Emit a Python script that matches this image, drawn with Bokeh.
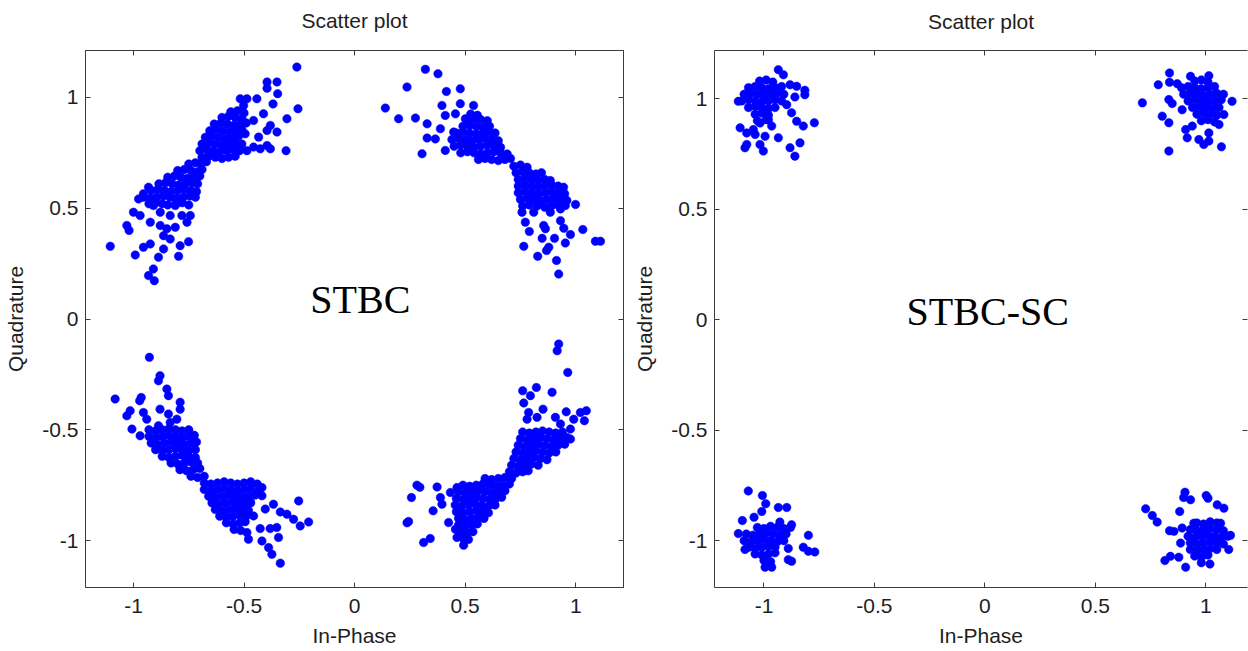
from bokeh.plotting import figure
from bokeh.layouts import row
from bokeh.models import LinearAxis, FixedTicker, Label, ColumnDataSource
from bokeh.embed import file_html
from bokeh.resources import INLINE

# ---------------- data ----------------
tick_values = [-1, -0.5, 0, 0.5, 1]
tick_labels = ["-1", "-0.5", "0", "0.5", "1"]

titles = ["Scatter plot", "Scatter plot"]
x_label = "In-Phase"
y_label = "Quadrature"
annotations = ["STBC", "STBC-SC"]

# STBC constellation (left panel), (In-Phase, Quadrature) pairs per quadrant
stbc_q2 = [
    (-0.261, 1.137), (-0.256, 0.949), (-0.306, 0.904), (-0.310, 0.760), (-0.396, 1.070), (-0.351, 1.070),
    (-0.396, 1.042), (-0.348, 1.017), (-0.369, 0.971), (-0.412, 0.926), (-0.442, 0.994), (-0.487, 0.994),
    (-0.457, 0.896), (-0.396, 0.851), (-0.351, 0.844), (-0.381, 0.874), (-0.434, 0.821), (-0.396, 0.783),
    (-0.381, 0.768), (-0.427, 0.768), (-0.457, 0.776), (-0.487, 0.760), (-0.517, 0.783), (-0.495, 0.836),
    (-0.517, 0.994), (-0.502, 0.964),
    (-1.105, 0.328), (-1.030, 0.422), (-1.020, 0.400), (-1.000, 0.482), (-0.970, 0.467), (-0.992, 0.289),
    (-0.955, 0.324), (-0.924, 0.339), (-0.932, 0.196), (-0.906, 0.173), (-0.910, 0.226), (-0.887, 0.279),
    (-0.864, 0.316), (-0.879, 0.422), (-0.864, 0.376), (-0.834, 0.361), (-0.849, 0.407), (-0.811, 0.414),
    (-0.796, 0.283), (-0.789, 0.331), (-0.751, 0.349), (-0.758, 0.437), (-0.743, 0.467), (-0.781, 0.467),
    (-0.924, 0.437), (-0.977, 0.542), (-0.955, 0.565), (-0.932, 0.595), (-0.910, 0.512), (-0.879, 0.482),
    (-0.834, 0.467), (-0.811, 0.512),
    (-0.93, 0.52), (-0.90, 0.525), (-0.87, 0.52), (-0.845, 0.515), (-0.81, 0.52), (-0.78, 0.525), (-0.75, 0.515),
    (-0.955, 0.55), (-0.925, 0.545), (-0.895, 0.55), (-0.865, 0.555), (-0.835, 0.55), (-0.805, 0.545),
    (-0.775, 0.55), (-0.745, 0.555), (-0.72, 0.55),
    (-0.92, 0.58), (-0.89, 0.585), (-0.86, 0.58), (-0.83, 0.575), (-0.80, 0.58), (-0.77, 0.585), (-0.74, 0.58),
    (-0.715, 0.575),
    (-0.885, 0.61), (-0.855, 0.615), (-0.825, 0.61), (-0.795, 0.605), (-0.765, 0.61), (-0.735, 0.615), (-0.71, 0.61),
    (-0.845, 0.64), (-0.815, 0.645), (-0.785, 0.64), (-0.755, 0.635), (-0.725, 0.64), (-0.70, 0.645),
    (-0.80, 0.67), (-0.77, 0.675), (-0.74, 0.67), (-0.71, 0.665), (-0.69, 0.675),
    (-0.75, 0.70), (-0.72, 0.705), (-0.695, 0.70), (-0.67, 0.71),
    (-0.69, 0.73), (-0.66, 0.735), (-0.63, 0.73), (-0.60, 0.725), (-0.57, 0.73), (-0.54, 0.735),
    (-0.70, 0.76), (-0.67, 0.765), (-0.64, 0.76), (-0.61, 0.755), (-0.58, 0.76), (-0.55, 0.765), (-0.52, 0.76),
    (-0.69, 0.79), (-0.66, 0.795), (-0.63, 0.79), (-0.60, 0.785), (-0.57, 0.79), (-0.54, 0.795), (-0.51, 0.79),
    (-0.675, 0.82), (-0.645, 0.825), (-0.615, 0.82), (-0.585, 0.815), (-0.555, 0.82), (-0.525, 0.825),
    (-0.655, 0.85), (-0.625, 0.855), (-0.595, 0.85), (-0.565, 0.845), (-0.535, 0.85), (-0.51, 0.855),
    (-0.635, 0.88), (-0.605, 0.885), (-0.575, 0.88), (-0.545, 0.875), (-0.515, 0.88), (-0.49, 0.885),
    (-0.60, 0.91), (-0.57, 0.915), (-0.54, 0.91), (-0.51, 0.905),
    (-0.56, 0.935), (-0.53, 0.94), (-0.50, 0.93),
]

stbc_q1 = [
    (0.320, 1.127), (0.237, 1.047), (0.377, 1.107), (0.415, 1.027), (0.478, 1.039), (0.139, 0.952),
    (0.199, 0.904), (0.275, 0.907), (0.328, 0.881), (0.305, 0.746), (0.328, 0.817), (0.365, 0.813),
    (0.410, 0.761), (0.395, 0.964), (0.410, 0.919), (0.388, 0.859), (0.456, 0.926), (0.478, 0.972),
    (0.538, 0.964), (0.501, 0.904), (0.448, 0.844),
    (0.999, 0.517), (1.032, 0.404), (1.089, 0.351), (1.112, 0.351), (0.976, 0.381), (0.953, 0.343),
    (0.946, 0.410), (0.931, 0.444), (0.923, 0.203), (0.913, 0.264), (0.904, 0.364), (0.878, 0.324),
    (0.868, 0.309), (0.828, 0.283), (0.848, 0.364), (0.863, 0.407), (0.855, 0.422), (0.765, 0.328),
    (0.790, 0.395), (0.772, 0.437), (0.757, 0.482), (0.810, 0.482), (0.885, 0.482), (0.931, 0.497),
    (0.953, 0.512),
    (0.56, 0.72), (0.59, 0.725), (0.62, 0.72), (0.65, 0.715), (0.68, 0.72), (0.705, 0.725),
    (0.48, 0.75), (0.51, 0.755), (0.54, 0.75), (0.57, 0.745), (0.60, 0.75), (0.63, 0.755), (0.66, 0.75), (0.69, 0.745),
    (0.45, 0.78), (0.48, 0.785), (0.51, 0.78), (0.54, 0.775), (0.57, 0.78), (0.60, 0.785), (0.63, 0.78), (0.66, 0.775),
    (0.44, 0.81), (0.47, 0.815), (0.50, 0.81), (0.53, 0.805), (0.56, 0.81), (0.59, 0.815), (0.62, 0.81), (0.65, 0.805),
    (0.46, 0.84), (0.49, 0.845), (0.52, 0.84), (0.55, 0.835), (0.58, 0.84), (0.61, 0.845), (0.635, 0.84),
    (0.49, 0.87), (0.52, 0.875), (0.55, 0.87), (0.58, 0.865), (0.61, 0.87),
    (0.51, 0.90), (0.54, 0.905), (0.57, 0.90), (0.60, 0.895),
    (0.525, 0.925), (0.555, 0.92),
    (0.72, 0.69), (0.75, 0.695), (0.78, 0.685),
    (0.73, 0.66), (0.76, 0.665), (0.79, 0.66), (0.82, 0.655), (0.845, 0.66),
    (0.74, 0.63), (0.77, 0.635), (0.80, 0.63), (0.83, 0.625), (0.86, 0.63), (0.885, 0.625),
    (0.74, 0.60), (0.77, 0.605), (0.80, 0.60), (0.83, 0.595), (0.86, 0.60), (0.89, 0.605), (0.92, 0.60), (0.945, 0.595),
    (0.74, 0.57), (0.77, 0.575), (0.80, 0.57), (0.83, 0.565), (0.86, 0.57), (0.89, 0.575), (0.92, 0.57), (0.95, 0.565),
    (0.75, 0.54), (0.78, 0.545), (0.81, 0.54), (0.84, 0.535), (0.87, 0.54), (0.90, 0.545), (0.93, 0.54), (0.96, 0.535),
    (0.76, 0.51), (0.79, 0.515), (0.825, 0.51), (0.86, 0.505), (0.89, 0.51), (0.92, 0.515),
]

stbc_q3 = [
    (-0.928, -0.173), (-0.880, -0.256), (-0.887, -0.279), (-0.849, -0.316), (-0.842, -0.346), (-1.083, -0.361),
    (-0.965, -0.354), (-0.972, -0.369), (-0.789, -0.376), (-0.789, -0.407), (-0.880, -0.407), (-0.842, -0.429),
    (-1.015, -0.414), (-1.030, -0.437), (-0.804, -0.452), (-0.955, -0.422), (-0.940, -0.452), (-1.007, -0.497),
    (-0.970, -0.527), (-0.887, -0.482), (-0.834, -0.467),
    (-0.253, -0.821), (-0.208, -0.916), (-0.246, -0.934), (-0.276, -0.904), (-0.306, -0.881), (-0.336, -0.871),
    (-0.367, -0.836), (-0.419, -0.761), (-0.419, -0.798), (-0.404, -0.858), (-0.427, -0.946), (-0.382, -0.946),
    (-0.352, -0.941), (-0.344, -0.986), (-0.419, -1.002), (-0.389, -1.032), (-0.374, -1.062), (-0.336, -1.102),
    (-0.480, -0.994), (-0.487, -0.964), (-0.457, -0.889), (-0.472, -0.828),
    (-0.93, -0.50), (-0.90, -0.505), (-0.87, -0.50), (-0.84, -0.495), (-0.81, -0.50), (-0.78, -0.505), (-0.75, -0.50),
    (-0.93, -0.53), (-0.90, -0.535), (-0.87, -0.53), (-0.84, -0.525), (-0.81, -0.53), (-0.78, -0.535), (-0.75, -0.53),
    (-0.725, -0.525),
    (-0.92, -0.56), (-0.89, -0.565), (-0.86, -0.56), (-0.83, -0.555), (-0.80, -0.56), (-0.77, -0.565), (-0.74, -0.56),
    (-0.715, -0.555),
    (-0.90, -0.59), (-0.87, -0.595), (-0.84, -0.59), (-0.81, -0.585), (-0.78, -0.59), (-0.75, -0.595), (-0.72, -0.59),
    (-0.87, -0.62), (-0.84, -0.625), (-0.81, -0.62), (-0.78, -0.615), (-0.75, -0.62), (-0.72, -0.625),
    (-0.83, -0.65), (-0.80, -0.655), (-0.77, -0.65), (-0.74, -0.645), (-0.71, -0.65),
    (-0.79, -0.68), (-0.76, -0.685), (-0.73, -0.68), (-0.70, -0.675),
    (-0.74, -0.71), (-0.71, -0.715), (-0.68, -0.71),
    (-0.68, -0.74), (-0.65, -0.745), (-0.62, -0.74), (-0.59, -0.735), (-0.56, -0.74), (-0.53, -0.745), (-0.50, -0.74),
    (-0.47, -0.735), (-0.44, -0.745),
    (-0.68, -0.77), (-0.65, -0.775), (-0.62, -0.77), (-0.59, -0.765), (-0.56, -0.77), (-0.53, -0.775), (-0.50, -0.77),
    (-0.47, -0.765), (-0.435, -0.775),
    (-0.66, -0.80), (-0.63, -0.805), (-0.60, -0.80), (-0.57, -0.795), (-0.54, -0.80), (-0.51, -0.805), (-0.48, -0.80),
    (-0.45, -0.795),
    (-0.645, -0.83), (-0.615, -0.835), (-0.585, -0.83), (-0.555, -0.825), (-0.525, -0.83), (-0.495, -0.835), (-0.47, -0.83),
    (-0.63, -0.86), (-0.60, -0.865), (-0.57, -0.86), (-0.54, -0.855), (-0.51, -0.86), (-0.48, -0.865),
    (-0.61, -0.89), (-0.58, -0.895), (-0.55, -0.89), (-0.52, -0.885), (-0.49, -0.89),
    (-0.58, -0.92), (-0.55, -0.925), (-0.52, -0.92), (-0.495, -0.915),
    (-0.545, -0.95), (-0.515, -0.955),
]

stbc_q4 = [
    (0.923, -0.113), (0.916, -0.143), (0.964, -0.241), (0.760, -0.324), (0.822, -0.309), (0.795, -0.346),
    (0.893, -0.331), (0.765, -0.379), (0.852, -0.407), (0.957, -0.419), (1.048, -0.414), (1.021, -0.422),
    (1.039, -0.459), (0.787, -0.422), (0.780, -0.452), (0.825, -0.444), (0.908, -0.444), (0.931, -0.474),
    (0.991, -0.452), (0.976, -0.497), (0.976, -0.542),
    (0.282, -0.750), (0.295, -0.760), (0.257, -0.806), (0.373, -0.758), (0.388, -0.806), (0.395, -0.836),
    (0.355, -0.866), (0.244, -0.914), (0.237, -0.920), (0.312, -1.009), (0.342, -0.991), (0.433, -0.783),
    (0.463, -0.761), (0.470, -0.851), (0.425, -0.919), (0.456, -0.949), (0.463, -0.986), (0.493, -1.021),
    (0.76, -0.51), (0.79, -0.515), (0.82, -0.51), (0.85, -0.505), (0.88, -0.51), (0.91, -0.515), (0.94, -0.51),
    (0.75, -0.54), (0.78, -0.545), (0.81, -0.54), (0.84, -0.535), (0.87, -0.54), (0.90, -0.545), (0.93, -0.54), (0.96, -0.535),
    (0.74, -0.57), (0.77, -0.575), (0.80, -0.57), (0.83, -0.565), (0.86, -0.57), (0.89, -0.575), (0.92, -0.57), (0.95, -0.565),
    (0.73, -0.60), (0.76, -0.605), (0.79, -0.60), (0.82, -0.595), (0.85, -0.60), (0.88, -0.605), (0.91, -0.60),
    (0.72, -0.63), (0.75, -0.635), (0.78, -0.63), (0.81, -0.625), (0.84, -0.63), (0.87, -0.635),
    (0.71, -0.66), (0.74, -0.665), (0.77, -0.66), (0.80, -0.655), (0.83, -0.66),
    (0.70, -0.69), (0.73, -0.695), (0.76, -0.69), (0.785, -0.685),
    (0.59, -0.72), (0.62, -0.725), (0.65, -0.72), (0.68, -0.715), (0.71, -0.72),
    (0.49, -0.75), (0.52, -0.755), (0.55, -0.75), (0.58, -0.745), (0.61, -0.75), (0.64, -0.755), (0.67, -0.75), (0.70, -0.745),
    (0.47, -0.78), (0.50, -0.785), (0.53, -0.78), (0.56, -0.775), (0.59, -0.78), (0.62, -0.785), (0.65, -0.78), (0.68, -0.775),
    (0.46, -0.81), (0.49, -0.815), (0.52, -0.81), (0.55, -0.805), (0.58, -0.81), (0.61, -0.815), (0.64, -0.81), (0.665, -0.805),
    (0.455, -0.84), (0.485, -0.845), (0.515, -0.84), (0.545, -0.835), (0.575, -0.84), (0.605, -0.845), (0.635, -0.84),
    (0.46, -0.87), (0.49, -0.875), (0.52, -0.87), (0.55, -0.865), (0.58, -0.87), (0.605, -0.875),
    (0.47, -0.90), (0.50, -0.905), (0.53, -0.90), (0.56, -0.895), (0.585, -0.90),
    (0.47, -0.93), (0.50, -0.935), (0.53, -0.93), (0.555, -0.925),
    (0.48, -0.96), (0.51, -0.965), (0.535, -0.96),
    (0.49, -0.99), (0.515, -0.995),
]

# STBC-SC constellation (right panel)
stbcsc_q2 = [
    (-0.935, 1.131), (-0.912, 1.108), (-0.882, 1.063), (-0.852, 1.056), (-0.815, 1.038), (-0.815, 1.018),
    (-0.860, 1.008), (-0.897, 0.973), (-0.875, 0.936), (-0.852, 0.898), (-0.822, 0.876), (-0.772, 0.891),
    (-0.935, 0.823), (-0.882, 0.778), (-0.860, 0.740), (-0.837, 0.800), (-1.003, 0.763), (-1.018, 0.793),
    (-0.995, 0.830), (-1.078, 0.793), (-1.086, 0.778), (-1.108, 0.868), (-1.078, 0.845), (-1.048, 0.860),
    (-1.040, 0.838), (-0.965, 0.876), (-0.980, 0.905), (-1.018, 0.890), (-1.116, 0.988),
    (-1.02, 1.08), (-0.99, 1.085), (-0.96, 1.075),
    (-1.07, 1.05), (-1.04, 1.055), (-1.01, 1.05), (-0.98, 1.045), (-0.95, 1.05), (-0.92, 1.055),
    (-1.09, 1.02), (-1.06, 1.025), (-1.03, 1.02), (-1.00, 1.015), (-0.97, 1.02), (-0.94, 1.025), (-0.91, 1.02),
    (-1.10, 0.99), (-1.07, 0.995), (-1.04, 0.99), (-1.01, 0.985), (-0.98, 0.99), (-0.95, 0.995), (-0.92, 0.99),
    (-1.07, 0.96), (-1.04, 0.965), (-1.01, 0.96), (-0.98, 0.955), (-0.95, 0.96),
    (-1.04, 0.93), (-1.01, 0.935), (-0.98, 0.925),
    (-1.03, 0.90), (-0.99, 0.905),
]

stbcsc_q1 = [
    (0.713, 0.981), (0.785, 1.063), (0.836, 1.116), (0.836, 1.074), (0.871, 1.068), (0.931, 1.101),
    (1.014, 1.104), (1.119, 0.988), (0.803, 0.921), (0.833, 0.891), (0.833, 0.996), (0.848, 0.978),
    (0.833, 0.763), (0.909, 0.860), (0.916, 0.823), (0.939, 0.876), (0.969, 0.815), (0.991, 0.793),
    (1.014, 0.845), (1.014, 0.808), (1.071, 0.782), (1.060, 0.883), (1.082, 0.928), (0.893, 0.950),
    (0.95, 1.08), (0.98, 1.085), (1.01, 1.075),
    (0.89, 1.05), (0.92, 1.055), (0.95, 1.05), (0.98, 1.045), (1.01, 1.05), (1.04, 1.055),
    (0.90, 1.02), (0.93, 1.025), (0.96, 1.02), (0.99, 1.015), (1.02, 1.02), (1.05, 1.025), (1.08, 1.02),
    (0.92, 0.99), (0.95, 0.995), (0.98, 0.99), (1.01, 0.985), (1.04, 0.99), (1.07, 0.995),
    (0.94, 0.96), (0.97, 0.965), (1.00, 0.96), (1.03, 0.955), (1.06, 0.96),
    (0.96, 0.93), (0.99, 0.935), (1.02, 0.93), (1.05, 0.925),
    (0.98, 0.90), (1.01, 0.905), (1.04, 0.895),
]

stbcsc_q3 = [
    (-1.071, -0.775), (-1.007, -0.796), (-0.992, -0.833), (-1.010, -0.868), (-0.935, -0.850), (-0.897, -0.850),
    (-1.045, -0.894), (-1.098, -0.909), (-0.928, -0.916), (-0.875, -0.928), (-1.116, -0.968), (-0.799, -0.976),
    (-0.822, -1.030), (-0.799, -1.048), (-0.770, -1.051), (-0.890, -1.086), (-0.875, -1.093), (-0.995, -1.120),
    (-0.965, -1.120), (-1.086, -1.040),
    (-1.03, -0.94), (-1.00, -0.945), (-0.97, -0.935), (-0.94, -0.94), (-0.91, -0.945), (-0.88, -0.94),
    (-1.08, -0.97), (-1.05, -0.975), (-1.02, -0.97), (-0.99, -0.965), (-0.96, -0.97), (-0.93, -0.975), (-0.90, -0.97),
    (-1.09, -1.00), (-1.06, -1.005), (-1.03, -1.00), (-1.00, -0.995), (-0.97, -1.00), (-0.94, -1.005), (-0.91, -1.00),
    (-1.07, -1.03), (-1.04, -1.035), (-1.01, -1.03), (-0.98, -1.025), (-0.95, -1.03), (-0.89, -1.035),
    (-1.04, -1.06), (-1.01, -1.065), (-0.98, -1.06), (-0.95, -1.055),
    (-1.00, -1.09), (-0.97, -1.095),
]

stbcsc_q4 = [
    (0.728, -0.856), (0.758, -0.886), (0.780, -0.916), (0.906, -0.781), (0.900, -0.805), (0.931, -0.815),
    (0.882, -0.868), (1.002, -0.796), (1.010, -0.808), (1.052, -0.838), (1.082, -0.853), (0.836, -0.955),
    (0.856, -0.958), (0.815, -1.090), (0.840, -1.071), (0.878, -1.075), (0.909, -1.120), (1.019, -1.106),
    (1.104, -1.040), (1.112, -0.976), (1.067, -0.921), (0.946, -0.921), (0.893, -0.943), (0.886, -1.011),
    (0.96, -0.92), (0.99, -0.925), (1.02, -0.915), (1.05, -0.92),
    (0.93, -0.95), (0.96, -0.955), (0.99, -0.95), (1.02, -0.945), (1.05, -0.95), (1.08, -0.955),
    (0.92, -0.98), (0.95, -0.985), (0.98, -0.98), (1.01, -0.975), (1.04, -0.98), (1.07, -0.985), (1.10, -0.98),
    (0.93, -1.01), (0.96, -1.015), (0.99, -1.01), (1.02, -1.005), (1.05, -1.01), (1.08, -1.015),
    (0.93, -1.04), (0.96, -1.045), (0.99, -1.04), (1.02, -1.035), (1.05, -1.04),
    (0.95, -1.07), (0.98, -1.075), (1.01, -1.065),
    (0.98, -1.10),
]

# ---------------- styling ----------------
SANS = "Liberation Sans"
SERIF = "Liberation Serif"
AXIS_COLOR = "#3c3c3c"
TEXT_COLOR = "#1e1e1e"
DOT_COLOR = "#0000FF"
FIG_H = 651
BORDER_BOTTOM = 64


def to_source(groups):
    xs, ys = [], []
    for g in groups:
        for (i, q) in g:
            xs.append(i)
            ys.append(q)
    return ColumnDataSource(data=dict(i=xs, q=ys))


def style_axis(ax, show_labels):
    ax.ticker = FixedTicker(ticks=tick_values)
    ax.major_label_overrides = {float(v): s for v, s in zip(tick_values, tick_labels)}
    ax.major_tick_in = 5
    ax.major_tick_out = 0
    ax.minor_tick_line_color = None
    ax.axis_line_color = AXIS_COLOR
    ax.major_tick_line_color = AXIS_COLOR
    ax.major_label_text_font = SANS
    ax.axis_label_text_font = SANS
    ax.axis_label_text_font_style = "normal"
    ax.axis_label_text_color = TEXT_COLOR
    ax.axis_label_text_font_size = "21px"
    if show_labels:
        ax.major_label_text_font_size = "21px"
        ax.major_label_text_color = TEXT_COLOR
    else:
        # tick marks only (MATLAB box with ticks on all sides)
        ax.major_label_text_font_size = "1px"
        ax.major_label_text_color = None
        ax.major_label_standoff = 0


def make_panel(title, groups, note, note_x, note_y, width, xr, yr,
               b_left, b_right, b_top, title_standoff, show_right_line):
    p = figure(width=width, height=FIG_H, x_range=xr, y_range=yr,
               output_backend="svg", toolbar_location=None,
               min_border_left=b_left, min_border_right=b_right,
               min_border_top=b_top, min_border_bottom=BORDER_BOTTOM,
               x_axis_label=x_label, y_axis_label=y_label)
    p.xgrid.visible = False
    p.ygrid.visible = False
    p.background_fill_color = "white"
    p.border_fill_color = "white"
    p.outline_line_color = AXIS_COLOR if show_right_line else None

    style_axis(p.xaxis[0], True)
    style_axis(p.yaxis[0], True)
    p.xaxis[0].major_label_standoff = 11
    p.xaxis[0].axis_label_standoff = 8
    p.yaxis[0].major_label_standoff = 7
    p.yaxis[0].axis_label_standoff = 12

    # upper box edge: tick marks only, with the panel title centred above it
    top = LinearAxis(axis_label=title)
    style_axis(top, False)
    top.axis_label_standoff = title_standoff
    p.add_layout(top, "above")
    right = LinearAxis()
    style_axis(right, False)
    if not show_right_line:
        right.axis_line_color = None
    p.add_layout(right, "right")

    src = to_source(groups)
    p.scatter("i", "q", source=src, size=8.5, marker="circle",
              fill_color=DOT_COLOR, line_color=DOT_COLOR, line_width=0.5)

    p.add_layout(Label(x=note_x, y=note_y, text=note, text_font=SERIF,
                       text_font_size="40px", text_color="#000000",
                       text_align="center", text_baseline="middle"))
    return p


p1 = make_panel(titles[0], [stbc_q1, stbc_q2, stbc_q3, stbc_q4], annotations[0], 0.026, 0.09,
                630, (-1.217, 1.216), (-1.212, 1.212), 85, 7, 50, 19, True)
p2 = make_panel(titles[1], [stbcsc_q1, stbcsc_q2, stbcsc_q3, stbcsc_q4], annotations[1], 0.013, 0.035,
                618, (-1.224, 1.189), (-1.212, 1.218), 83, 1, 48, 18, False)

layout = row(p1, p2)
open("out.html", "w").write(file_html(layout, INLINE))
